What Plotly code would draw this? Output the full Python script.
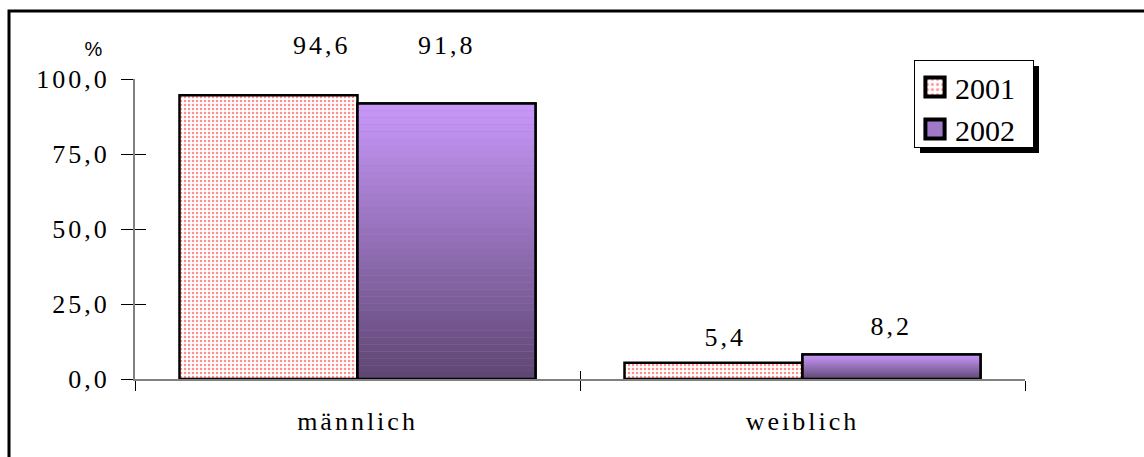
import plotly.graph_objects as go

categories = ["männlich", "weiblich"]
series_names = ["2001", "2002"]
values_2001 = [94.6, 5.4]
values_2002 = [91.8, 8.2]
label_2001 = ["94,6", "5,4"]
label_2002 = ["91,8", "8,2"]
y_tick_vals = [0, 25, 50, 75, 100]
y_tick_text = ["0,0", "25,0", "50,0", "75,0", "100,0"]

SERIF = "Liberation Serif, Times New Roman, serif"
FS = 26
TOP = (200, 152, 250)
BOT = (94, 70, 114)
N_SEG = 40

fig = go.Figure()

fig.add_trace(go.Bar(
    name=series_names[0], x=categories, y=values_2001, offsetgroup="a",
    marker=dict(color="white",
                line=dict(color="black", width=2.5),
                pattern=dict(shape=".", fgcolor="#ff2020", bgcolor="white",
                             size=4, solidity=0.3)),
))
fig.add_trace(go.Bar(
    name=series_names[1], x=categories, y=values_2002, offsetgroup="b",
    marker=dict(color="rgb(160,120,200)", line=dict(color="black", width=2.5)),
))
# vertical gradient of the 2002 bars (light top, dark bottom)
for k in range(N_SEG):
    t = (k + 0.5) / N_SEG
    col = "rgb({},{},{})".format(*[round(b + t * (a - b)) for a, b in zip(TOP, BOT)])
    fig.add_trace(go.Bar(
        x=categories, y=[v / N_SEG for v in values_2002],
        base=[v * k / N_SEG for v in values_2002], offsetgroup="b",
        marker=dict(color=col, line=dict(width=0)),
        showlegend=False, hoverinfo="skip",
    ))
fig.add_trace(go.Bar(
    x=categories, y=values_2002, offsetgroup="b",
    marker=dict(color="rgba(0,0,0,0)", line=dict(color="black", width=2.5)),
    showlegend=False, hoverinfo="skip",
))
# empty traces so the overlay axes (inner half of the crossing ticks) are drawn
fig.add_trace(go.Scatter(x=[], y=[], xaxis="x2", yaxis="y", showlegend=False, hoverinfo="skip"))
fig.add_trace(go.Scatter(x=[], y=[], xaxis="x", yaxis="y2", showlegend=False, hoverinfo="skip"))

# value labels
half = (1 - 0.2) / 4
lab_dx = {"2001": [0.12, 0.027], "2002": [0.0, 0.0]}
lab_dy = {"2001": [50, 25], "2002": [58, 28]}
for i, c in enumerate(categories):
    fig.add_annotation(x=i - half + lab_dx["2001"][i], y=values_2001[i], xref="x", yref="y",
                       text=label_2001[i], showarrow=False, yshift=lab_dy["2001"][i],
                       font=dict(family=SERIF, size=FS, color="black"))
    fig.add_annotation(x=i + half + lab_dx["2002"][i], y=values_2002[i], xref="x", yref="y",
                       text=label_2002[i], showarrow=False, yshift=lab_dy["2002"][i],
                       font=dict(family=SERIF, size=FS, color="black"))

fig.add_annotation(x=-0.0573, y=1.143, xref="paper", yref="paper", text="%",
                   showarrow=False, font=dict(family="Liberation Sans, Arial, sans-serif",
                                              size=20, color="black"))

# outer frame and legend shadow
fig.add_shape(type="rect", xref="paper", yref="paper", x0=(9 - 135) / 890, x1=1.3,
              y0=-0.5, y1=(379 - 11) / 300, line=dict(color="black", width=3), layer="below")
fig.add_shape(type="rect", xref="paper", yref="paper", x0=(920 - 135) / 890,
              x1=(1039 - 135) / 890, y0=(379 - 153) / 300, y1=(379 - 66) / 300,
              line=dict(width=0), fillcolor="black")

fig.update_layout(
    width=1144, height=457,
    margin=dict(l=135, r=119, t=79, b=78),
    paper_bgcolor="white", plot_bgcolor="white",
    barmode="group", bargap=0.2, bargroupgap=0,
    showlegend=True,
    legend=dict(x=(914 - 135) / 890, y=(379 - 60) / 300, xanchor="left", yanchor="top",
                bgcolor="white", bordercolor="black", borderwidth=1,
                font=dict(family=SERIF, size=30, color="black"),
                tracegroupgap=0, itemwidth=30),
    xaxis=dict(type="category", showgrid=False, zeroline=False,
               showline=True, linecolor="#808080", linewidth=2,
               ticks="outside", tickson="boundaries", ticklen=10, tickcolor="black",
               tickwidth=1, ticklabelstandoff=18,
               tickfont=dict(family=SERIF, size=FS, color="black")),
    yaxis=dict(range=[0, 100], tickvals=y_tick_vals, ticktext=y_tick_text,
               showgrid=False, zeroline=False, showline=True, linecolor="#808080",
               linewidth=2, ticks="outside", ticklen=12, tickcolor="black", tickwidth=1,
               ticklabelstandoff=6,
               tickfont=dict(family=SERIF, size=FS, color="black")),
    xaxis2=dict(overlaying="x", range=[-0.5, 1.5], tickvals=[-0.5, 0.5, 1.5],
                ticks="inside", ticklen=8, tickcolor="black", showticklabels=False,
                showgrid=False, zeroline=False, showline=False, anchor="y", side="bottom"),
    yaxis2=dict(overlaying="y", range=[0, 100], tickvals=y_tick_vals,
                ticks="inside", ticklen=11, tickcolor="black", showticklabels=False,
                showgrid=False, zeroline=False, showline=False, anchor="x", side="left"),
)

post = ("document.body.style.margin='0';"
        "document.querySelectorAll('.xtick text, .ytick text, .annotation-text')"
        ".forEach(function(e){e.style.letterSpacing='3px';});"
        "document.querySelectorAll('.legendpoints path').forEach(function(p){"
        "p.setAttribute('transform',(p.getAttribute('transform')||'')+' scale(1.6)');});"
        "var bg=document.querySelector('.legend rect.bg');"
        "if(bg){bg.setAttribute('width','119');bg.setAttribute('height','87');}")
fig.write_html("out.html", post_script=post, config={"displayModeBar": False})
